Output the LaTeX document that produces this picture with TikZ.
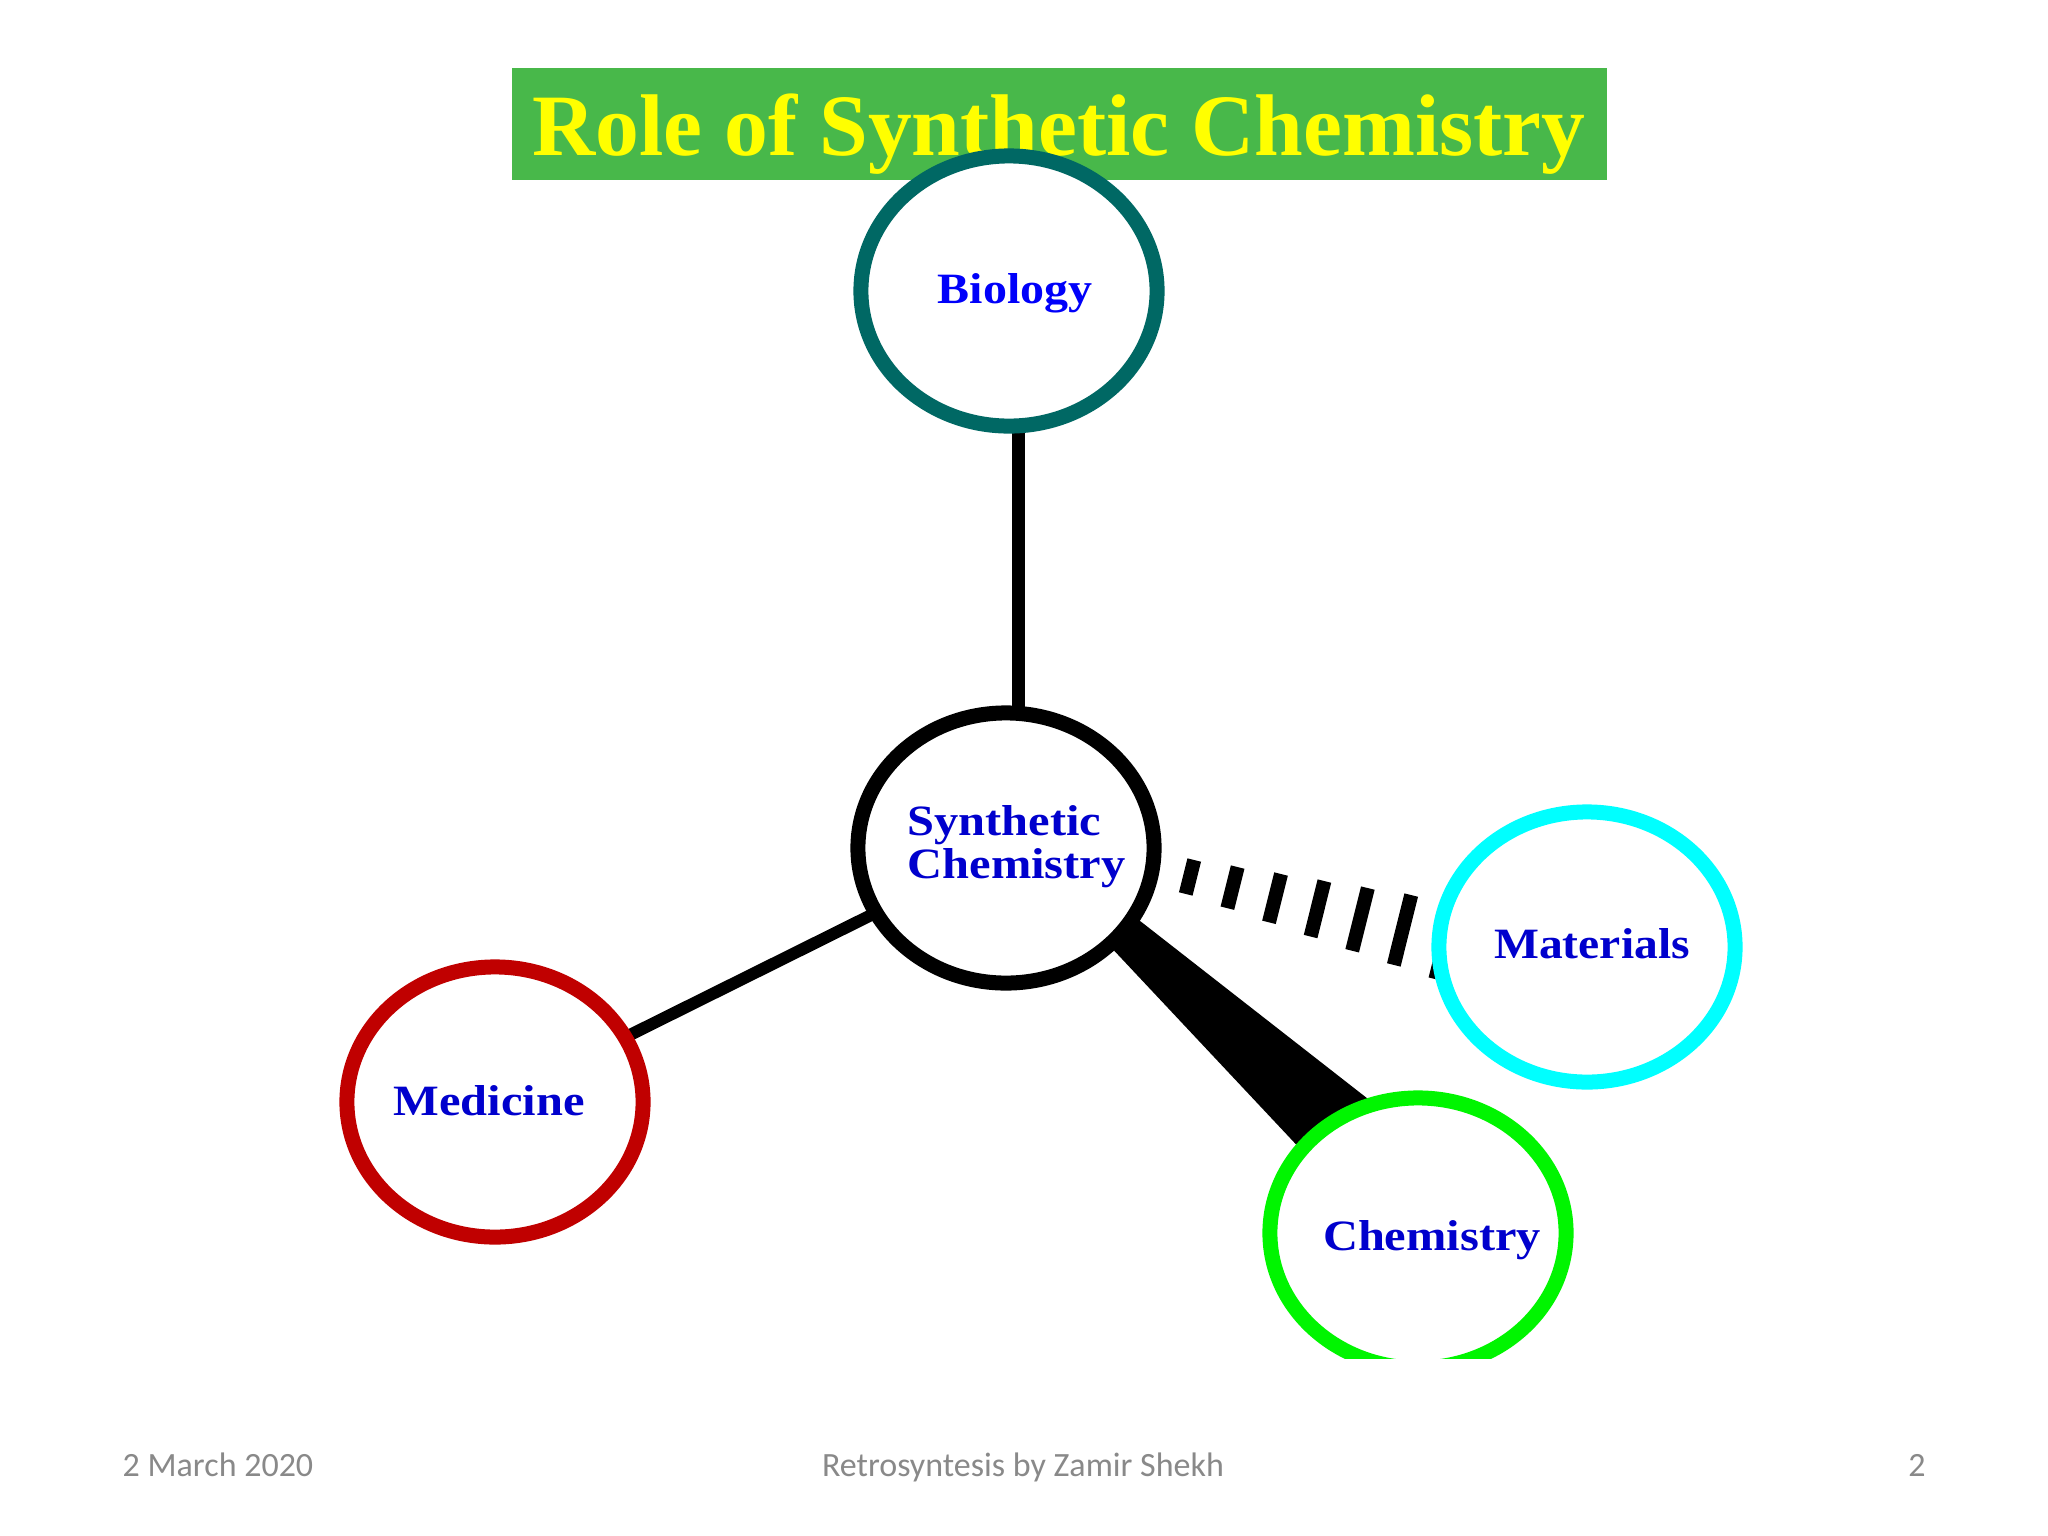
\documentclass[tikz,border=0pt]{standalone}
\usepackage{fontspec}
\setmainfont{Liberation Serif}
\newfontfamily\footfont{Carlito}
\usetikzlibrary{shapes.geometric,calc,backgrounds}
\definecolor{titlegreen}{RGB}{72,184,74}
\definecolor{titleyellow}{RGB}{255,255,0}
\definecolor{bioteal}{RGB}{0,104,100}
\definecolor{medred}{RGB}{192,0,0}
\definecolor{matcyan}{RGB}{0,255,255}
\definecolor{chemgreen}{RGB}{0,245,0}
\definecolor{labelblue}{RGB}{0,0,205}
\definecolor{biolabel}{RGB}{0,0,250}
\definecolor{footgray}{RGB}{137,137,137}
\begin{document}
\begin{tikzpicture}[x=0.01cm,y=-0.01cm,
  ring/.style={ellipse, draw, line width=0.15cm, fill=white,
    minimum width=2.96cm, minimum height=2.70cm, inner sep=0pt},
  lbl/.style={font=\fontsize{12.3}{12.3}\selectfont\bfseries, text=labelblue,
    anchor=base, inner sep=0pt},
  footer/.style={font=\fontsize{9.67}{9.67}\selectfont\footfont, text=footgray,
    anchor=base, inner sep=0pt},
  bond/.style={line width=0.13cm, draw=black},
  hashbar/.style={line width=0.14cm, draw=black}]
\useasboundingbox (0,0) rectangle (2048,1536);

% title
\node[fill=titlegreen, minimum width=10.95cm, minimum height=1.12cm, inner sep=0pt]
  (titlebox) at (1059.5,124) {};
\node[anchor=base, text=titleyellow, inner sep=0pt,
  font=\fontsize{24.9}{24.9}\selectfont\bfseries] (title) at (1059,155)
  {Role of Synthetic Chemistry};

% circles
\node[ring, draw=bioteal] (bio) at (1009,291) {};
\node[ring, draw=black] (syn) at (1006,848) {};
\node[ring, draw=matcyan] (mat) at (1587,947) {};
\node[ring, draw=medred] (med) at (495,1102) {};
\begin{scope}
  \clip (0,0) rectangle (2048,1358);
  \node[ring, draw=chemgreen] (chem) at (1418,1233) {};
\end{scope}

% labels
\node[lbl, text=biolabel] (biot) at (1015,303) {\scalebox{1.11}[1]{Biology}};
\node[lbl, anchor=base west] (synt) at (907,835) {\scalebox{1.12}[1]{Synthetic}};
\node[lbl, anchor=base west] (synt2) at (907,878) {\scalebox{1.12}[1]{Chemistry}};
\node[lbl] (matt) at (1592,958) {\scalebox{1.1}[1]{Materials}};
\node[lbl] (medt) at (489,1115) {\scalebox{1.12}[1]{Medicine}};
\node[lbl] (chemt) at (1432,1250) {\scalebox{1.12}[1]{Chemistry}};

% connectors behind the circles
\begin{pgfonlayer}{background}
  \fill[white] (0,0) rectangle (2048,1536);
  \draw[bond] ($(bio.center)+(9,0)$) -- ($(syn.center)+(12,0)$);
  \draw[bond, line width=0.12cm] (med.center) -- (syn.center);
  \coordinate (wa1) at (1094,885);
  \coordinate (wa2) at (1076,910);
  \coordinate (wb1) at (1395,1120);
  \coordinate (wb2) at (1321,1171);
  \fill[black] (wa1) -- (wb1) -- (wb2) -- (wa2) -- cycle;
  \foreach \i in {0,...,6}{
    \draw[hashbar]
      ({1190+42.5*\i+(17.5+3.7*\i)*0.242},{877+10.6*\i-(17.5+3.7*\i)*0.970}) --
      ({1190+42.5*\i-(17.5+3.7*\i)*0.242},{877+10.6*\i+(17.5+3.7*\i)*0.970});
  }
\end{pgfonlayer}

% footer
\node[footer, anchor=base west] (date) at (122,1476) {2 March 2020};
\node[footer] (author) at (1023,1476) {Retrosyntesis by Zamir Shekh};
\node[footer] (page) at (1917,1476) {2};
\end{tikzpicture}
\end{document}
